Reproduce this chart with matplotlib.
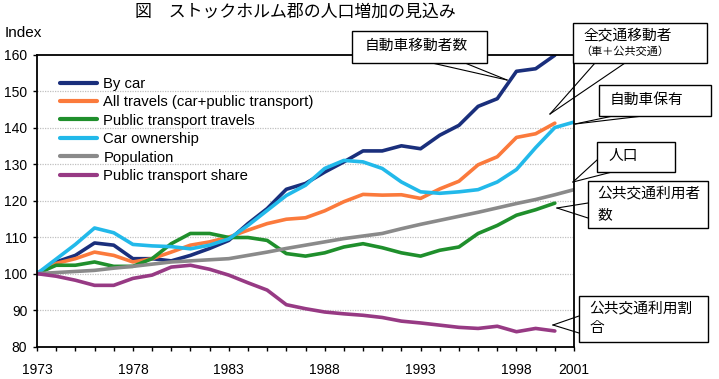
import matplotlib
matplotlib.use("Agg")
import matplotlib.pyplot as plt
from matplotlib.patches import Rectangle

plt.rcParams['font.family'] = ['Liberation Sans', 'Noto Sans CJK JP', 'DejaVu Sans']

years = list(range(1973, 2002))
by_car = [100, 103.2, 105.0, 108.4, 107.8, 104.1, 104.1, 103.5, 105.0, 106.9,
          109.1, 113.7, 117.8, 123.1, 124.7, 127.8, 130.6, 133.6, 133.6, 135.0,
          134.2, 137.9, 140.6, 145.8, 147.9, 155.4, 156.1, 159.8]
all_travels = [100, 102.8, 104.1, 105.9, 105.0, 103.2, 104.1, 105.9, 107.8, 108.7,
               110.0, 111.9, 113.7, 114.9, 115.3, 117.2, 119.7, 121.7, 121.5, 121.6,
               120.6, 123.2, 125.3, 129.8, 132.0, 137.3, 138.3, 141.2]
public_travels = [100, 102.3, 102.3, 103.2, 102.0, 102.0, 104.1, 108.2, 111.0, 111.0,
                  109.9, 109.9, 109.1, 105.5, 104.8, 105.7, 107.3, 108.2, 107.1, 105.7,
                  104.8, 106.4, 107.3, 111.0, 113.2, 116.0, 117.5, 119.3]
car_ownership = [100, 104.0, 108.0, 112.5, 111.2, 108.0, 107.6, 107.4, 106.8, 107.8,
                 109.5, 113.2, 117.3, 121.4, 124.2, 128.8, 131.0, 130.6, 128.8, 125.1,
                 122.4, 122.0, 122.4, 123.0, 125.1, 128.5, 134.5, 140.0, 141.5]
population = [100, 100.3, 100.6, 100.9, 101.5, 102.0, 102.6, 103.2, 103.5, 103.8,
              104.1, 105.0, 105.9, 106.9, 107.8, 108.7, 109.6, 110.3, 111.0, 112.3,
              113.5, 114.6, 115.7, 116.8, 118.0, 119.2, 120.3, 121.6, 123.0]
pt_share = [100, 99.3, 98.2, 96.8, 96.8, 98.7, 99.6, 101.8, 102.3, 101.2,
            99.6, 97.5, 95.5, 91.5, 90.4, 89.5, 89.0, 88.6, 88.0, 87.0,
            86.5, 85.9, 85.3, 85.0, 85.6, 84.1, 85.0, 84.3]

series_labels = ["By car", "All travels (car+public transport)", "Public transport travels",
                 "Car ownership", "Population", "Public transport share"]
series_colors = ["#1a2f7c", "#fb7a3c", "#1f8f2c", "#22b9ea", "#8a8a8a", "#973a84"]
xtick_labels = [1973, 1978, 1983, 1988, 1993, 1998, 2001]
yticks = [80, 90, 100, 110, 120, 130, 140, 150, 160]

title = "図　ストックホルム郡の人口増加の見込み"
callouts = [
    # box (x0, y0, x1, y1) in px, wedge base pts, tip
    ((352, 31, 487, 63), [(432, 63), (465, 63)], (507, 80)),
    ((573, 23, 707, 63), [(595, 63), (625, 63)], (550, 114)),
    ((599, 85, 711, 116), [(613, 116), (643, 116)], (575, 124)),
    ((597, 142, 675, 172), [(597, 160), (612, 172)], (573, 182)),
    ((588, 181, 708, 228), [(588, 203), (588, 218)], (557, 208)),
    ((579, 296, 708, 342), [(579, 316), (579, 333)], (553, 325)),
]

W, H = 719, 379
fig = plt.figure(figsize=(W / 100, H / 100), dpi=100)
ax = fig.add_axes([37 / W, 1 - 346.7 / H, (574 - 37) / W, (346.7 - 54.5) / H])

data = [by_car, all_travels, public_travels, car_ownership, population, pt_share]
for vals, lab, col in zip(data, series_labels, series_colors):
    ax.plot(years[:len(vals)], vals, color=col, lw=2.6, label=lab,
            solid_joinstyle='round', solid_capstyle='round')

ax.set_xlim(1973, 2001)
ax.set_ylim(80, 160)
ax.set_yticks(yticks)
ax.set_xticks(xtick_labels)
ax.set_xticks(years, minor=True)
ax.tick_params(axis='x', which='both', direction='out', length=3, width=1, pad=9,
               labelsize=10)
ax.tick_params(axis='y', direction='out', length=3, width=1, pad=4, labelsize=10)
for t in ax.get_yticks():
    if 80 < t < 160:
        ax.axhline(t, color='#c0c0c0', lw=0.9, ls=(0, (1, 1)), zorder=0)
for s in ax.spines.values():
    s.set_linewidth(1.3)
    s.set_color('black')

leg = ax.legend(loc='upper left', bbox_to_anchor=(0.043, 0.924), frameon=False,
                handlelength=2.5, handletextpad=0.42, labelspacing=0.3,
                borderpad=0, borderaxespad=0, fontsize=10.7)
for h in leg.get_lines():
    h.set_linewidth(3)

fig.text(5 / W, 1 - 33 / H, "Index", fontsize=11, va='center', ha='left')
fig.text(135 / W, 1 - 12 / H, title, fontsize=12.2, va='center', ha='left',
         family=['Noto Sans CJK JP'])

ov = fig.add_axes([0, 0, 1, 1], zorder=5)
ov.set_xlim(0, W)
ov.set_ylim(H, 0)
ov.axis('off')
ov.patch.set_alpha(0)

for (x0, y0, x1, y1), base, tip in callouts:
    for b in base:
        ov.plot([b[0], tip[0]], [b[1], tip[1]], color='black', lw=0.8, zorder=1)
    ov.add_patch(Rectangle((x0, y0), x1 - x0, y1 - y0, facecolor='white',
                           edgecolor='black', lw=1.0, zorder=2))

jp = ['Noto Sans CJK JP']
fs = 10.6
ov.text(365, 46, "自動車移動者数", fontsize=fs, va='center', ha='left', family=jp, zorder=3)
ov.text(583, 35, "全交通移動者", fontsize=fs, va='center', ha='left', family=jp, zorder=3)
ov.text(580, 52, "（車＋公共交通）", fontsize=8, va='center', ha='left', family=jp, zorder=3)
ov.text(610, 100, "自動車保有", fontsize=fs, va='center', ha='left', family=jp, zorder=3)
ov.text(608, 156, "人口", fontsize=fs, va='center', ha='left', family=jp, zorder=3)
ov.text(597, 194, "公共交通利用者", fontsize=fs, va='center', ha='left', family=jp, zorder=3)
ov.text(597, 215, "数", fontsize=fs, va='center', ha='left', family=jp, zorder=3)
ov.text(589, 309, "公共交通利用割", fontsize=fs, va='center', ha='left', family=jp, zorder=3)
ov.text(589, 328, "合", fontsize=fs, va='center', ha='left', family=jp, zorder=3)

fig.savefig("out.png", dpi=100)
